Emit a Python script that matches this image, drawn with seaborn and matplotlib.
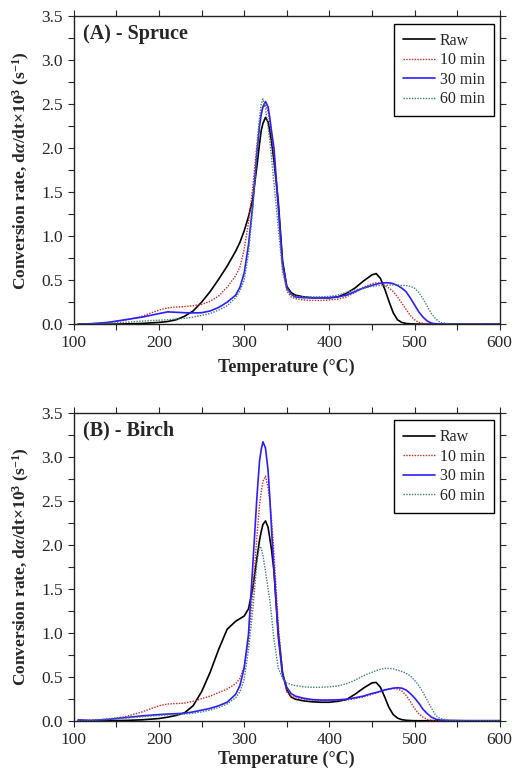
import numpy as np
import pandas as pd
import matplotlib
matplotlib.use("Agg")
import matplotlib.pyplot as plt
import seaborn as sns

# ---------------- data ----------------
temperature = [105, 120, 140, 160, 180,
               200, 210, 220, 230, 240,
               250, 260, 270, 280, 290,
               295, 300, 305, 310, 315,
               318, 320, 322, 325, 328,
               330, 332, 335, 340, 345,
               350, 355, 360, 370, 380,
               390, 400, 410, 420, 430,
               440, 450, 455, 460, 465,
               470, 475, 480, 485, 490,
               495, 500, 505, 510, 515,
               520, 525, 530, 540, 560,
               580, 600]

series_names = ["Raw", "10 min", "30 min", "60 min"]

spruce_raw = [0, 0, 0, 0.003, 0.008,
              0.02, 0.03, 0.05, 0.09, 0.15,
              0.25, 0.37, 0.51, 0.66, 0.83,
              0.93, 1.06, 1.22, 1.42, 1.8,
              2.05, 2.2, 2.28, 2.35, 2.3,
              2.2, 2.08, 1.85, 1.4, 0.72,
              0.43, 0.36, 0.33, 0.31, 0.3,
              0.3, 0.3, 0.31, 0.35, 0.41,
              0.49, 0.56, 0.575, 0.52, 0.4,
              0.26, 0.13, 0.05, 0.02, 0.008,
              0.004, 0.002, 0.001, 0, 0,
              0, 0, 0, 0, 0,
              0, 0]
spruce_10 = [0, 0.005, 0.02, 0.045, 0.09,
             0.16, 0.185, 0.195, 0.2, 0.21,
             0.225, 0.26, 0.32, 0.42, 0.55,
             0.65, 0.85, 1.15, 1.55, 2.05,
             2.3, 2.4, 2.47, 2.5, 2.42,
             2.3, 2.15, 1.9, 1.3, 0.65,
             0.38, 0.31, 0.29, 0.275, 0.27,
             0.27, 0.275, 0.285, 0.31, 0.36,
             0.42, 0.46, 0.47, 0.465, 0.44,
             0.41, 0.37, 0.31, 0.24, 0.17,
             0.1, 0.05, 0.02, 0.01, 0.003,
             0, 0, 0, 0, 0,
             0, 0]
spruce_30 = [0, 0.005, 0.02, 0.05, 0.08,
             0.12, 0.14, 0.135, 0.13, 0.128,
             0.13, 0.15, 0.19, 0.25, 0.33,
             0.42, 0.58, 0.9, 1.35, 1.95,
             2.25, 2.38, 2.47, 2.53, 2.47,
             2.35, 2.2, 2.0, 1.35, 0.7,
             0.42, 0.34, 0.31, 0.3, 0.3,
             0.3, 0.3, 0.31, 0.33, 0.37,
             0.41, 0.44, 0.455, 0.465, 0.47,
             0.47, 0.46, 0.44, 0.41, 0.37,
             0.3, 0.22, 0.14, 0.08, 0.035,
             0.012, 0.004, 0, 0, 0,
             0, 0]
spruce_60 = [0, 0.003, 0.01, 0.02, 0.035,
             0.045, 0.05, 0.058, 0.066, 0.08,
             0.1, 0.12, 0.16, 0.21, 0.3,
             0.38, 0.5, 0.8, 1.3, 1.95,
             2.35, 2.5, 2.56, 2.45, 2.25,
             2.09, 1.9, 1.6, 1.1, 0.6,
             0.4, 0.34, 0.32, 0.31, 0.31,
             0.31, 0.315, 0.33, 0.36, 0.39,
             0.41, 0.43, 0.435, 0.44, 0.44,
             0.445, 0.445, 0.445, 0.44, 0.44,
             0.43, 0.41, 0.36, 0.29, 0.2,
             0.12, 0.06, 0.02, 0.005, 0.003,
             0.002, 0]

birch_raw = [0, 0, 0, 0.003, 0.01,
             0.025, 0.04, 0.06, 0.09, 0.17,
             0.33, 0.55, 0.81, 1.04, 1.13,
             1.16, 1.19, 1.27, 1.5, 1.85,
             2.05, 2.15, 2.23, 2.27, 2.2,
             2.08, 1.95, 1.7, 1.0, 0.55,
             0.35, 0.27, 0.245, 0.225, 0.215,
             0.21, 0.21, 0.22, 0.24, 0.3,
             0.37, 0.43, 0.435, 0.38, 0.27,
             0.15, 0.07, 0.03, 0.012, 0.005,
             0.002, 0, 0, 0, 0,
             0, 0, 0, 0, 0,
             0, 0]
birch_10 = [0, 0.005, 0.02, 0.045, 0.1,
            0.17, 0.19, 0.195, 0.2, 0.22,
            0.25, 0.28, 0.32, 0.36, 0.42,
            0.48, 0.62, 0.9, 1.45, 2.1,
            2.45, 2.6, 2.72, 2.78, 2.65,
            2.5, 2.3, 1.9, 1.1, 0.55,
            0.33, 0.28, 0.26, 0.245, 0.235,
            0.23, 0.23, 0.232, 0.235, 0.25,
            0.27, 0.3, 0.315, 0.33, 0.345,
            0.36, 0.365, 0.36, 0.34, 0.29,
            0.22, 0.14, 0.08, 0.04, 0.015,
            0.005, 0, 0, 0, 0,
            0, 0]
birch_30 = [0.01, 0.003, 0.015, 0.035, 0.055,
            0.07, 0.076, 0.08, 0.085, 0.1,
            0.12, 0.14, 0.17, 0.21, 0.3,
            0.4, 0.6, 0.98, 1.75, 2.55,
            2.95, 3.08, 3.17, 3.1, 2.85,
            2.55, 2.2, 1.7, 0.95, 0.52,
            0.38, 0.31, 0.28, 0.255, 0.24,
            0.235, 0.235, 0.237, 0.245, 0.26,
            0.28, 0.31, 0.32, 0.335, 0.35,
            0.36, 0.37, 0.375, 0.37, 0.35,
            0.31, 0.26, 0.2, 0.13, 0.08,
            0.04, 0.018, 0.008, 0.003, 0,
            0, 0]
birch_60 = [0, 0.005, 0.015, 0.03, 0.045,
            0.06, 0.065, 0.07, 0.075, 0.085,
            0.1, 0.12, 0.15, 0.19, 0.26,
            0.33, 0.47, 0.8, 1.25, 1.8,
            1.98, 1.96, 1.88, 1.7, 1.5,
            1.38, 1.2, 0.92, 0.6, 0.48,
            0.43, 0.41, 0.4, 0.385, 0.38,
            0.38, 0.385, 0.395, 0.42, 0.46,
            0.51, 0.55, 0.57, 0.585, 0.595,
            0.595, 0.59, 0.575, 0.56, 0.54,
            0.51, 0.46, 0.4, 0.32, 0.23,
            0.14, 0.06, 0.025, 0.005, 0,
            0, 0]

panel_titles = ["(A) - Spruce", "(B) - Birch"]
x_ticks = [100, 200, 300, 400, 500, 600]
y_ticks = [0.0, 0.5, 1.0, 1.5, 2.0, 2.5, 3.0, 3.5]

# ---------------- style ----------------
sns.set_style("ticks")
plt.rcParams["font.family"] = ["Liberation Serif", "DejaVu Serif"]
plt.rcParams["mathtext.fontset"] = "custom"
plt.rcParams["mathtext.rm"] = "Liberation Serif:bold"
plt.rcParams["mathtext.it"] = "Liberation Serif:italic:bold"
plt.rcParams["mathtext.bf"] = "Liberation Serif:bold"

palette = {"Raw": "#000000", "10 min": "#d42424",
           "30 min": "#2a1fff", "60 min": "#3f7b78"}
dashes = {"Raw": "", "10 min": (1, 1), "30 min": "", "60 min": (1, 1)}
widths = {"Raw": 1.2, "10 min": 1.0, "30 min": 1.2, "60 min": 1.0}


def make_df(values):
    frames = []
    for name, vals in zip(series_names, values):
        frames.append(pd.DataFrame({"T": temperature, "v": vals, "series": name}))
    return pd.concat(frames, ignore_index=True)


panels = [make_df([spruce_raw, spruce_10, spruce_30, spruce_60]),
          make_df([birch_raw, birch_10, birch_30, birch_60])]
xlabel_offsets = [-0.112, -0.098]

fig = plt.figure(figsize=(5.13, 7.70), dpi=100)
axes = [fig.add_axes([0.144, 0.579, 0.830, 0.400]),
        fig.add_axes([0.144, 0.064, 0.830, 0.400])]

for ax, df, title, xoff in zip(axes, panels, panel_titles, xlabel_offsets):
    sns.lineplot(data=df, x="T", y="v", hue="series", style="series",
                 palette=palette, dashes=dashes, estimator=None,
                 legend=False, ax=ax, linewidth=1.1)
    for line, name in zip(ax.get_lines(), series_names):
        line.set_linewidth(widths[name])
    ax.set_xlim(100, 600)
    ax.set_ylim(0, 3.5)
    ax.set_xticks(x_ticks)
    ax.set_yticks(y_ticks)
    ax.set_xticks([150, 250, 350, 450, 550], minor=True)
    ax.set_yticks([0.25, 0.75, 1.25, 1.75, 2.25, 2.75, 3.25], minor=True)
    ax.set_yticklabels([f"{t:.1f}" for t in y_ticks])
    ax.tick_params(which="both", direction="out", length=4, width=0.8,
                   top=True, right=True, labelsize=12.5, pad=4)
    for s in ax.spines.values():
        s.set_linewidth(1.0)
        s.set_color("#222222")
    ax.set_xlabel("Temperature (°C)", fontsize=13, fontweight="bold")
    ax.set_ylabel(r"Conversion rate, d$\alpha$/dt$\times$10$^{3}$ (s$^{-1}$)",
                  fontsize=12.5, fontweight="bold")
    ax.xaxis.set_label_coords(0.5, xoff)
    ax.yaxis.set_label_coords(-0.098, 0.5)
    ax.text(0.021, 0.943, title, transform=ax.transAxes, fontsize=14.5,
            fontweight="bold", va="center", ha="left")
    handles = ax.get_lines()[:4]
    leg = ax.legend(handles, series_names, loc="upper right",
                    bbox_to_anchor=(0.986, 0.975), fontsize=11.5,
                    frameon=True, fancybox=False, edgecolor="black",
                    framealpha=1, handlelength=2.0, handletextpad=0.3,
                    labelspacing=0.22, borderpad=0.55, borderaxespad=0)
    leg.get_frame().set_linewidth(1.0)

fig.savefig("out.png", dpi=100)
